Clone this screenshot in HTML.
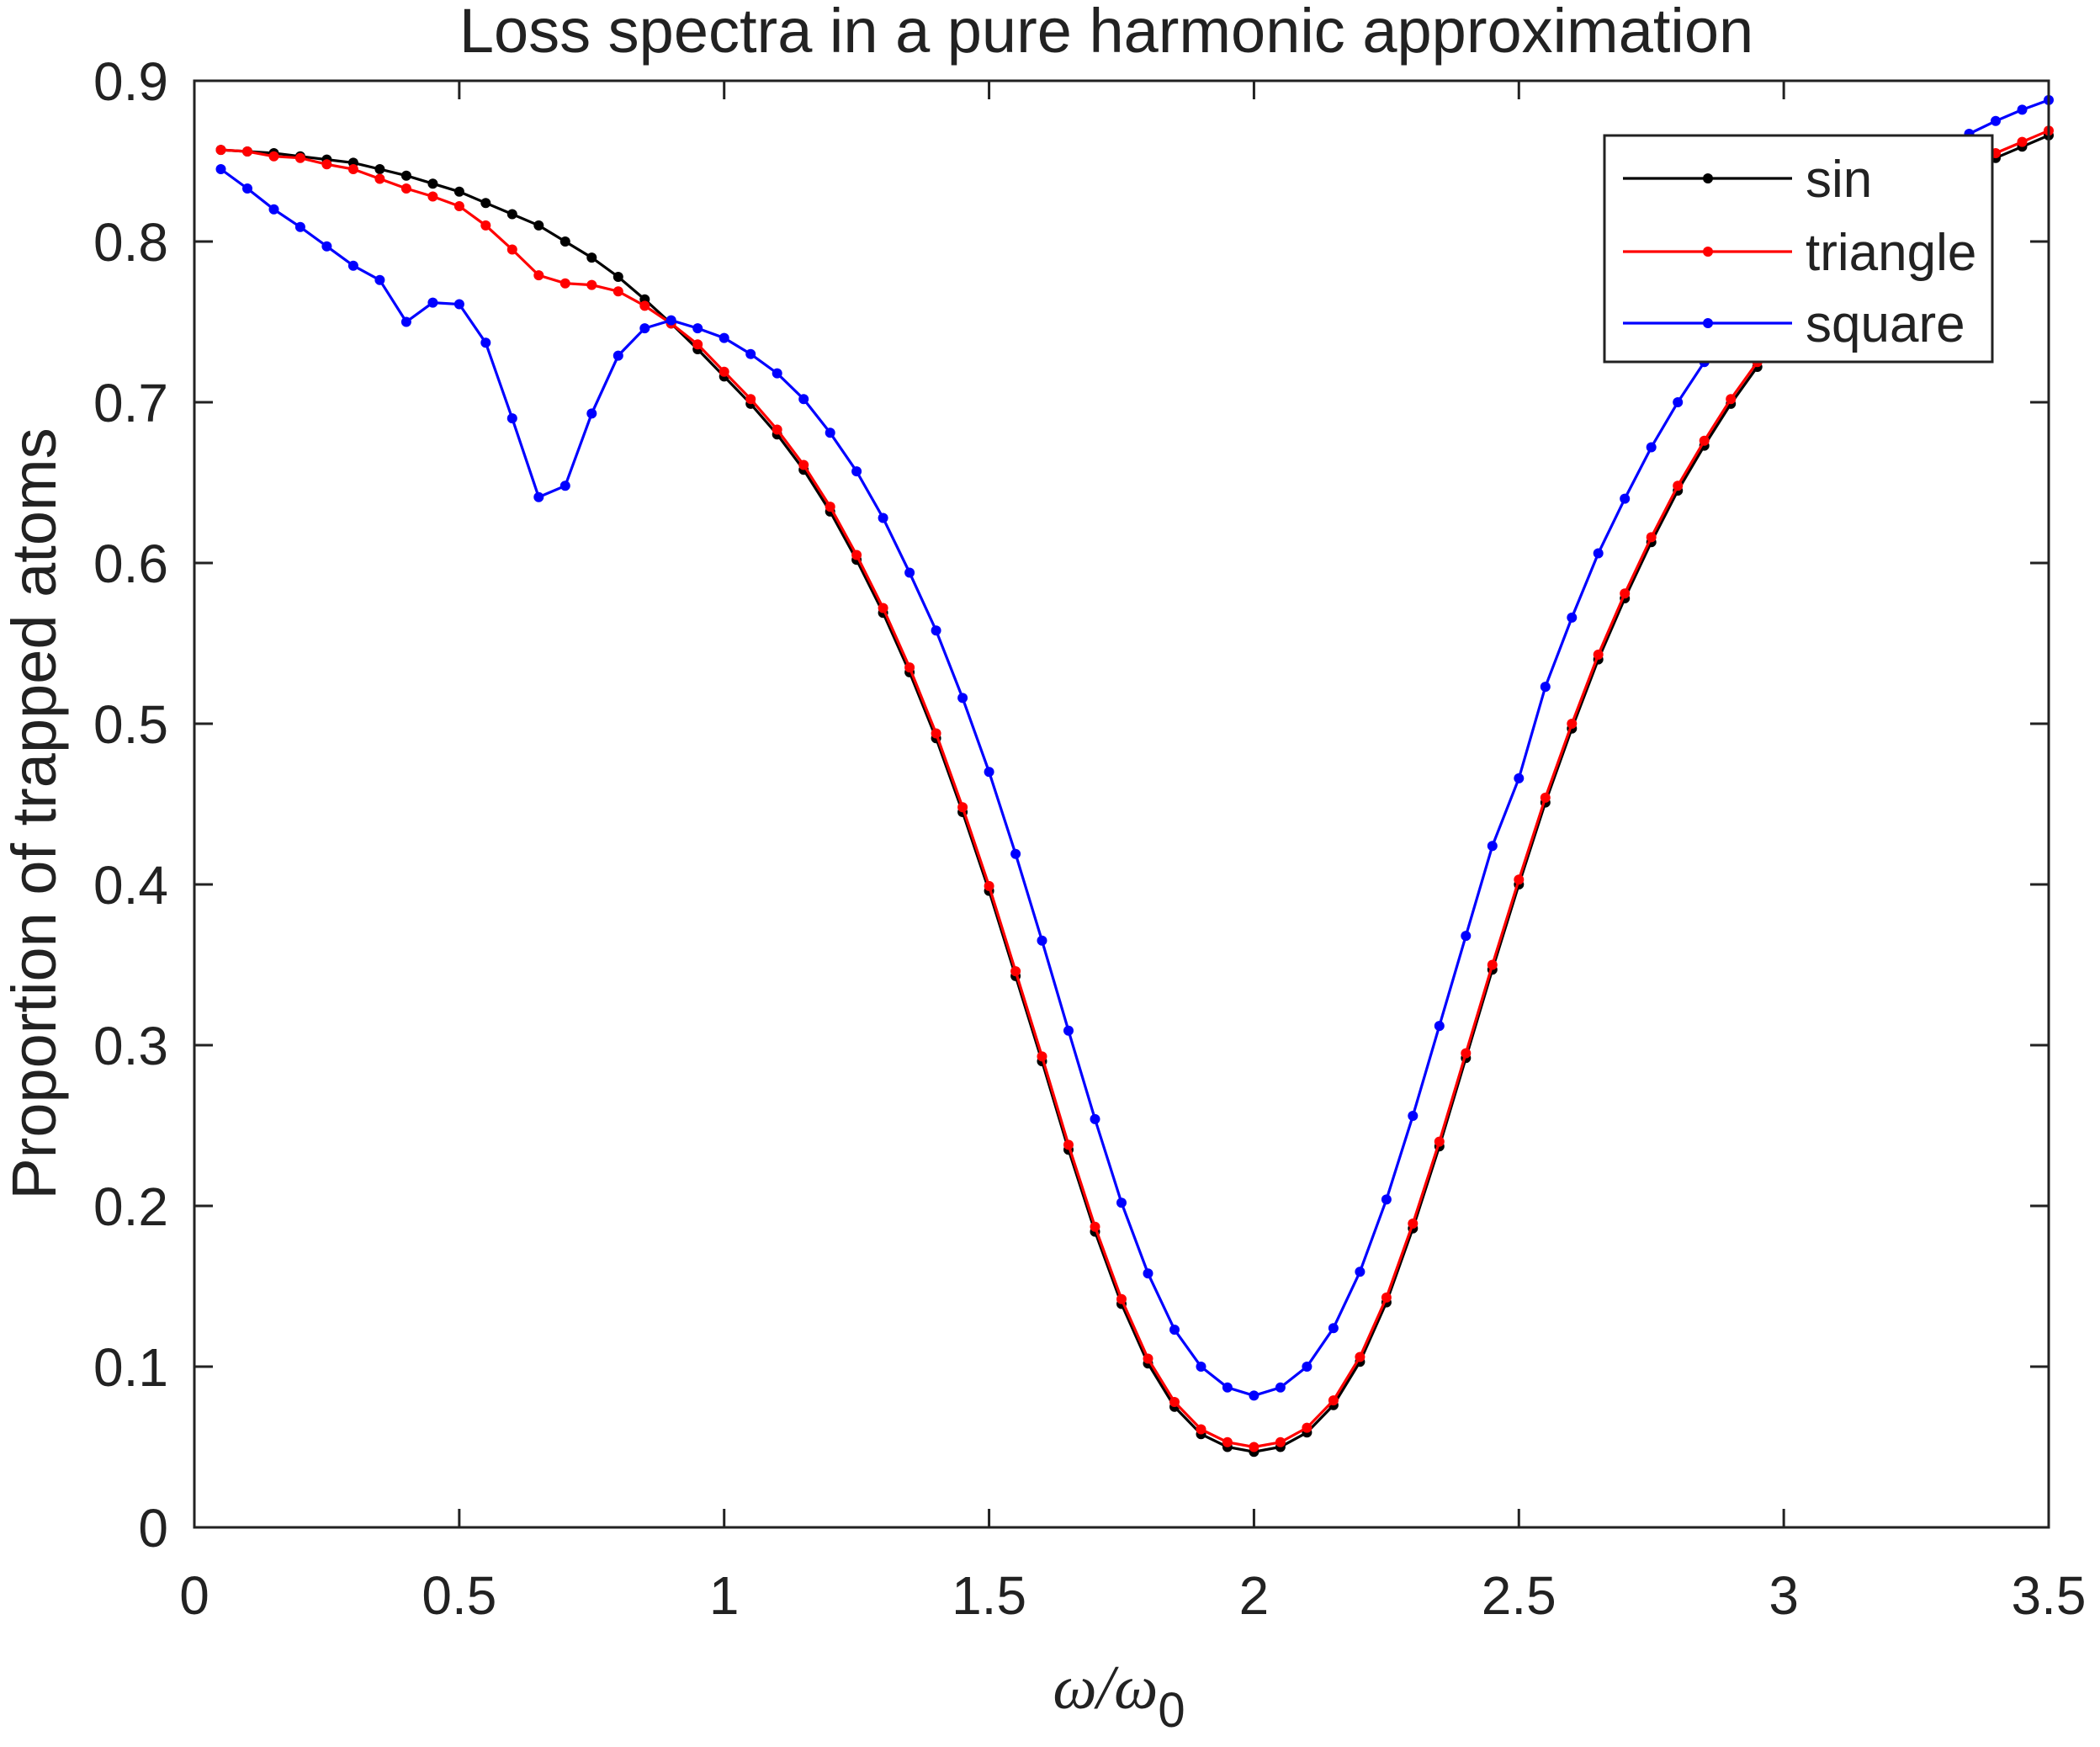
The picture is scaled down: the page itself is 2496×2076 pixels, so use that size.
<!DOCTYPE html>
<html><head><meta charset="utf-8"><style>body{margin:0;background:#fff}svg{display:block}</style></head>
<body>
<svg id="s" width="2496" height="2076" xmlns="http://www.w3.org/2000/svg" font-family="Liberation Sans, sans-serif">
<rect width="2496" height="2076" fill="#fff"/>
<g id="plot"></g>
<text x="1315" y="62" font-size="74" text-anchor="middle" fill="#222">Loss spectra in a pure harmonic approximation</text>
<text transform="translate(66,967) rotate(-90)" font-size="74" text-anchor="middle" fill="#222">Proportion of trapped atoms</text>
<text x="1330" y="2030" font-size="74" text-anchor="middle" fill="#222" font-family="Liberation Serif, serif" font-style="italic">ω/ω<tspan font-size="58" dy="22" font-style="normal" font-family="Liberation Sans, sans-serif">0</tspan></text>
</svg>
<script>
const X0=231,X1=2435,Y0=1815,Y1=96;
const px=x=>X0+x*(X1-X0)/3.5, py=y=>Y0-y*(Y0-Y1)/0.9;
const xs=[];for(let i=1;i<=70;i++)xs.push(i*0.05);
const sin=[0.857,0.856,0.855,0.853,0.851,0.849,0.845,0.841,0.836,0.831,0.824,0.817,0.81,0.8,0.79,0.778,0.764,0.749,0.733,0.716,0.699,0.68,0.658,0.632,0.602,0.569,0.532,0.491,0.445,0.396,0.343,0.29,0.235,0.184,0.139,0.102,0.075,0.058,0.05,0.047,0.05,0.059,0.076,0.103,0.14,0.186,0.237,0.292,0.347,0.4,0.451,0.497,0.54,0.578,0.613,0.645,0.673,0.699,0.722,0.743,0.762,0.779,0.795,0.809,0.822,0.834,0.844,0.852,0.859,0.866];
const triStart=[0.857,0.856,0.853,0.852,0.848,0.845,0.839,0.833,0.828,0.822,0.81,0.795,0.779,0.774,0.773,0.769,0.76,0.749];
const tri=sin.map((v,i)=>i<triStart.length?triStart[i]:v+0.003);
const sq=[0.845,0.833,0.82,0.809,0.797,0.785,0.776,0.75,0.762,0.761,0.737,0.69,0.641,0.648,0.693,0.729,0.746,0.751,0.746,0.74,0.73,0.718,0.702,0.681,0.657,0.628,0.594,0.558,0.516,0.47,0.419,0.365,0.309,0.254,0.202,0.158,0.123,0.1,0.087,0.082,0.087,0.1,0.124,0.159,0.204,0.256,0.312,0.368,0.424,0.466,0.523,0.566,0.606,0.64,0.672,0.7,0.725,0.748,0.768,0.786,0.803,0.818,0.832,0.845,0.852,0.86,0.867,0.875,0.882,0.888];
let h='';
const series=[[sin,'#000'],[tri,'#f00'],[sq,'#00f']];
for(const [d,c] of series){
 h+=`<polyline fill="none" stroke="${c}" stroke-width="3.2" points="${d.map((v,i)=>px(xs[i]).toFixed(1)+','+py(v).toFixed(1)).join(' ')}"/>`;
 d.forEach((v,i)=>h+=`<circle cx="${px(xs[i]).toFixed(1)}" cy="${py(v).toFixed(1)}" r="6" fill="${c}"/>`);
}
h+=`<rect x="${X0}" y="${Y1}" width="${X1-X0}" height="${Y0-Y1}" fill="none" stroke="#222" stroke-width="3"/>`;
const T=22;
for(let i=0;i<=7;i++){const x=px(i*0.5);
 h+=`<line x1="${x}" y1="${Y0}" x2="${x}" y2="${Y0-T}" stroke="#222" stroke-width="3"/><line x1="${x}" y1="${Y1}" x2="${x}" y2="${Y1+T}" stroke="#222" stroke-width="3"/>`;
 h+=`<text x="${x}" y="1918" font-size="64" text-anchor="middle" fill="#222">${i*0.5}</text>`;}
for(let i=0;i<=9;i++){const y=py(i*0.1);
 h+=`<line x1="${X0}" y1="${y}" x2="${X0+T}" y2="${y}" stroke="#222" stroke-width="3"/><line x1="${X1}" y1="${y}" x2="${X1-T}" y2="${y}" stroke="#222" stroke-width="3"/>`;
 h+=`<text x="200" y="${y+23}" font-size="64" text-anchor="end" fill="#222">${i==0?'0':(i/10).toFixed(1)}</text>`;}
h+=`<rect x="1907" y="161" width="461" height="269" fill="#fff" stroke="#222" stroke-width="3"/>`;
const names=['sin','triangle','square'],ys=[212,299,384];
series.forEach(([d,c],k)=>{h+=`<line x1="1929" y1="${ys[k]}" x2="2130" y2="${ys[k]}" stroke="${c}" stroke-width="3.2"/><circle cx="2030" cy="${ys[k]}" r="6" fill="${c}"/><text x="2146" y="${ys[k]+22}" font-size="62" fill="#222">${names[k]}</text>`;});
document.getElementById('plot').innerHTML=h;
</script>
</body></html>
